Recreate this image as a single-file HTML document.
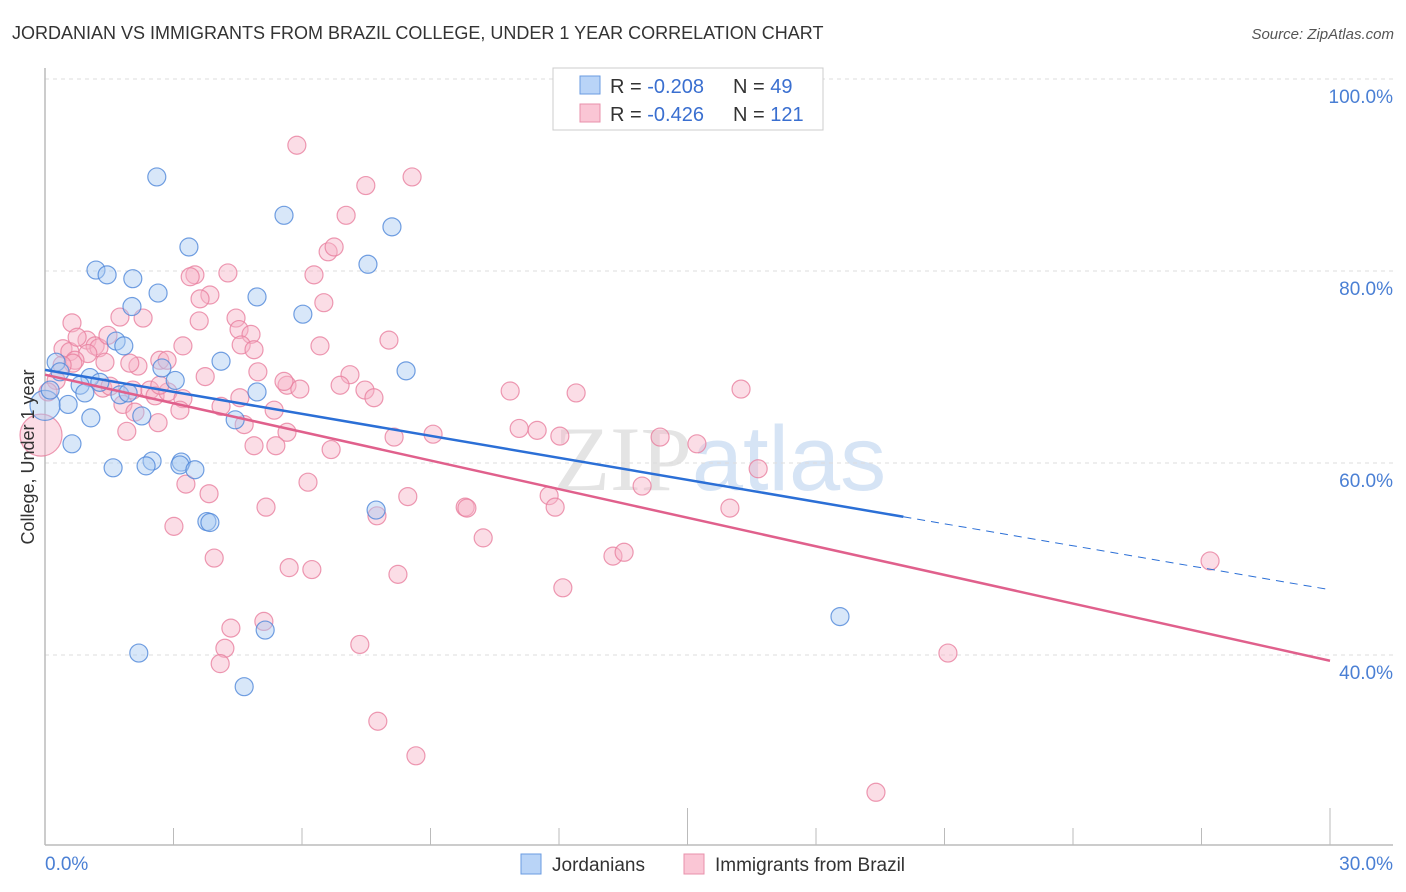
<!DOCTYPE html>
<html><head><meta charset="utf-8"><style>
body{margin:0;background:#fff;font-family:"Liberation Sans",sans-serif}
svg{display:block}
</style></head><body>
<svg id="chart" width="1406" height="892" xmlns="http://www.w3.org/2000/svg">
<text x="12" y="39" font-size="18" fill="#333">JORDANIAN VS IMMIGRANTS FROM BRAZIL COLLEGE, UNDER 1 YEAR CORRELATION CHART</text>
<text x="1394" y="39" font-size="15" fill="#555" text-anchor="end" font-style="italic">Source: ZipAtlas.com</text>
<text x="720" y="490" font-size="92" text-anchor="middle" fill="#e4e4e4" font-family="Liberation Serif, serif">ZIP<tspan fill="#d6e4f5" font-family="Liberation Sans, sans-serif">atlas</tspan></text>
<g id="grid"></g><g id="axes"></g><g id="pts"></g><g id="trends"></g>
<text transform="translate(34,457) rotate(-90)" font-size="18" fill="#333" text-anchor="middle">College, Under 1 year</text>
<g>
<rect x="553" y="68" width="270" height="62" fill="#fff" stroke="#ccc"/>
<rect x="580" y="76" width="20" height="18" fill="#b9d4f7" stroke="#6a9be0"/>
<rect x="580" y="104" width="20" height="18" fill="#fac6d5" stroke="#e890ab"/>
<text x="610" y="93" font-size="20" fill="#333">R = <tspan fill="#3a6fd0">-0.208</tspan></text>
<text x="733" y="93" font-size="20" fill="#333">N = <tspan fill="#3a6fd0">49</tspan></text>
<text x="610" y="121" font-size="20" fill="#333">R = <tspan fill="#3a6fd0">-0.426</tspan></text>
<text x="733" y="121" font-size="20" fill="#333">N = <tspan fill="#3a6fd0">121</tspan></text>
</g>
<g>
<rect x="521" y="854" width="20" height="20" fill="#b9d4f7" stroke="#6a9be0"/>
<text x="552" y="871" font-size="19" fill="#333">Jordanians</text>
<rect x="684" y="854" width="20" height="20" fill="#fac6d5" stroke="#e890ab"/>
<text x="715" y="871" font-size="19" fill="#333">Immigrants from Brazil</text>
</g>
</svg>
<script>
const xTickLabels=["0.0%","30.0%"];
const yTicks=[100,80,60,40];
const blueX=[2.61,5.58,8.10,3.36,1.19,1.45,2.05,7.54,2.64,4.95,2.03,6.02,1.66,1.84,4.11,2.73,8.43,0.26,0.35,1.05,0.82,1.28,0.93,1.75,1.94,0.54,0,1.07,2.26,4.44,0.63,1.59,2.50,2.36,3.18,3.15,3.50,3.78,3.85,7.73,4.95,5.14,2.19,4.65,18.56,0.12,3.04];
const blueY=[89.8,85.8,84.6,82.5,80.1,79.6,79.2,80.7,77.7,77.3,76.3,75.5,72.7,72.2,70.6,69.9,69.6,70.5,69.5,68.9,68.1,68.4,67.3,67.1,67.3,66.1,66.0,64.7,64.9,64.5,62.0,59.5,60.2,59.7,60.1,59.8,59.3,53.9,53.8,55.1,67.4,42.6,40.2,36.7,44.0,67.6,68.6];
const pinkX=[5.88,8.57,7.49,7.03,6.61,6.75,3.50,4.27,3.39,3.85,3.62,6.28,6.51,0.63,1.75,2.29,4.46,3.60,4.53,4.81,3.22,0.98,1.17,1.26,0.42,0.58,1.00,8.03,6.42,4.58,4.88,0.70,0.65,0.40,1.40,2.17,2.68,2.85,1.98,3.74,4.97,7.12,5.65,5.95,5.58,6.89,7.47,7.68,10.86,12.40,16.25,1.35,1.52,2.05,2.45,2.57,2.87,1.82,2.10,3.22,4.11,4.55,5.35,4.65,5.65,2.64,1.91,4.88,5.39,6.68,8.15,9.06,11.07,11.49,12.02,14.36,15.22,16.65,0.26,0.07,0,3.29,3.83,6.14,8.47,5.16,7.75,9.81,9.85,11.77,11.91,13.94,15.99,3.01,10.23,3.95,5.70,6.23,8.24,13.26,13.52,12.09,27.20,4.34,5.11,7.35,4.20,4.09,21.08,7.77,8.66,19.40,0.75,1.47,2.68,3.15];
const pinkY=[93.1,89.8,88.9,85.8,82.0,82.5,79.6,79.8,79.4,77.5,77.1,79.6,76.7,74.6,75.2,75.1,75.1,74.8,73.9,73.4,72.2,72.8,72.2,72.0,71.9,71.6,71.4,72.8,72.2,72.3,71.8,70.7,70.4,70.2,70.5,70.1,70.7,70.7,70.4,69.0,69.5,69.2,68.1,67.7,68.5,68.1,67.6,66.8,67.5,67.3,67.7,67.8,68.0,67.6,67.6,67.0,67.4,66.1,65.3,66.7,65.9,66.8,65.5,64.0,63.2,64.2,63.3,61.8,61.8,61.4,62.7,63.0,63.6,63.4,62.8,62.7,62.0,59.4,68.6,67.4,62.9,57.8,56.8,58.0,56.5,55.4,54.5,55.4,55.3,56.6,55.4,57.6,55.3,53.4,52.2,50.1,49.1,48.9,48.4,50.3,50.7,47.0,49.8,42.8,43.5,41.1,40.7,39.1,40.2,33.1,29.5,25.7,73.1,73.3,68.1,65.5];
const blueTrend=[69.7,54.4,46.8];
const blueTrendX=[0,20.04,30];
const pinkTrend=[69.2,39.4];
const pinkTrendX=[0,30];

const NS="http://www.w3.org/2000/svg";
const sx=v=>45+v/30*1285;
const sy=v=>79+(100-v)*9.6;
function mk(tag,attrs,parent){const e=document.createElementNS(NS,tag);for(const k in attrs)e.setAttribute(k,attrs[k]);document.getElementById(parent).appendChild(e);return e;}
yTicks.forEach(t=>{
  const l=mk('line',{x1:45,x2:1393,y1:sy(t),y2:sy(t),stroke:'#ddd','stroke-dasharray':'4,4'},'grid');
  
  
  const tx=mk('text',{x:1393,y:sy(t)+24,'font-size':19,fill:'#4a7fd4','text-anchor':'end'},'grid');
  tx.textContent=t.toFixed(1)+'%';
  
  
});
const ax=mk('line',{x1:45,x2:1393,y1:845,y2:845,stroke:'#bbb','stroke-width':1.5},'axes');


const ay=mk('line',{x1:45,x2:45,y1:68,y2:845,stroke:'#bbb','stroke-width':1.5},'axes');


for(let i=0;i<=10;i++){
  const v=i*3;const top=(i==5||i==10)?808:828;
  const t=mk('line',{x1:sx(v),x2:sx(v),y1:top,y2:845,stroke:'#bbb'},'axes');
  
  
}
[[0,'start',45],[30,'end',1393]].forEach((d,i)=>{
  const t=mk('text',{x:d[2],y:870,'font-size':19,fill:'#4a7fd4','text-anchor':d[1]},'axes');
  t.textContent=xTickLabels[i];
  
  
});
function dots(X,Y,fill,stroke,name){
  X.forEach((x,i)=>{
    const big=(x===0);
    const c=mk('circle',{cx:sx(x)-(big&&name=='pink-point'?4:0),cy:sy(Y[i]),r:big?(name=='pink-point'?21:15):9,fill:fill,'fill-opacity':0.45,stroke:stroke,'stroke-opacity':0.8,'stroke-width':1.2},'pts');
    
    
  });
}
dots(pinkX,pinkY,'#f7b3c7','#e8809f','pink-point');
dots(blueX,blueY,'#a9c9f2','#4f87d9','blue-point');
let l=mk('line',{x1:sx(blueTrendX[0]),y1:sy(blueTrend[0]),x2:sx(blueTrendX[1]),y2:sy(blueTrend[1]),stroke:'#2b6fd6','stroke-width':2.5},'trends');


l=mk('line',{x1:sx(blueTrendX[1]),y1:sy(blueTrend[1]),x2:sx(blueTrendX[2]),y2:sy(blueTrend[2]),stroke:'#2b6fd6','stroke-width':1,'stroke-dasharray':'8,6'},'trends');


l=mk('line',{x1:sx(pinkTrendX[0]),y1:sy(pinkTrend[0]),x2:sx(pinkTrendX[1]),y2:sy(pinkTrend[1]),stroke:'#e0608c','stroke-width':2.5},'trends');


</script>
</body></html>
